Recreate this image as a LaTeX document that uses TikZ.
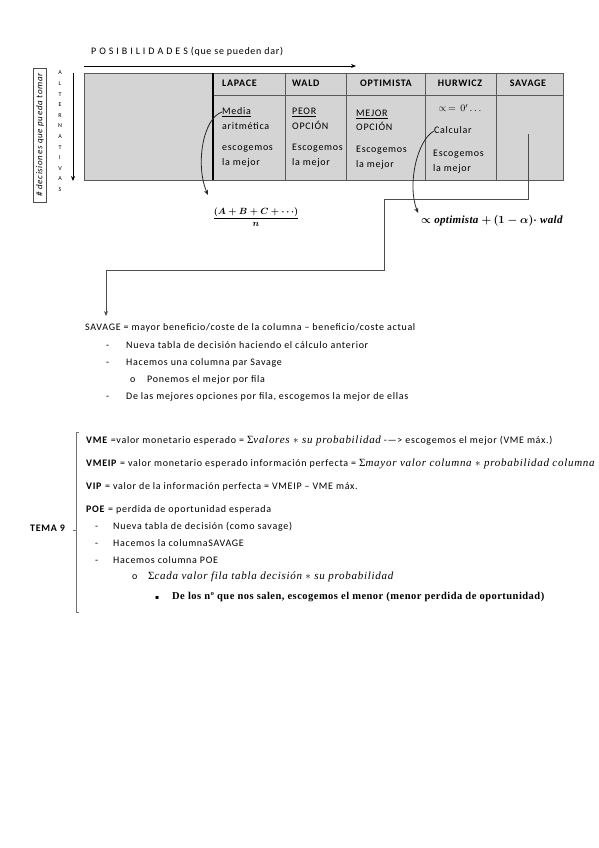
\documentclass[tikz,border=0pt]{standalone}
\usepackage{fontspec}
\setmainfont{Carlito}[LetterSpace=7]
\newfontfamily\serifit{Liberation Serif}[LetterSpace=6.5]
\newfontfamily\serifbf{Liberation Serif}[LetterSpace=4.5]
\newfontfamily\serifplain{Liberation Serif}[LetterSpace=3]
\newfontfamily\dejavu{DejaVu Sans}
\usetikzlibrary{arrows.meta}
\begin{document}
\begin{tikzpicture}[x=1pt,y=-1pt,
  txt/.style={inner sep=0pt, anchor=west, font=\fontsize{10}{11}\selectfont, text height=1.5ex, text depth=.3ex},
  hdr/.style={txt, font=\fontsize{10}{11}\selectfont\bfseries},
  hdrc/.style={hdr, anchor=center},
  small/.style={inner sep=0pt, font=\fontsize{6}{7}\selectfont},
  gridline/.style={draw=black!65, line width=0.8pt},
  conn/.style={draw=black!70, line width=0.8pt},
  arr/.style={-{Stealth[length=5pt,width=4pt]}, line width=0.8pt},
  mit/.style={inner sep=0pt, anchor=west, font=\fontsize{11}{12}\selectfont\serifit\itshape, text height=1.5ex, text depth=.3ex},
]
\useasboundingbox (0,0) rectangle (599,848);

% title and arrow
\node[txt] (tit) at (91,52) {P O S I B I L I D A D E S (que se pueden dar)};
\coordinate (ta) at (84,66);
\coordinate (tb) at (356,66);
\draw[arr] (ta) -- (tb);

% left box with rotated text
\node[draw=black!70, line width=0.8pt, rotate=90, minimum width=134pt, minimum height=13pt, inner sep=0pt,
      font=\fontsize{9}{10}\selectfont\itshape] (dec) at (40,135) {\# decisiones que pueda tomar};
\foreach \l [count=\i] in {A,L,T,E,R,N,A,T,I,V,A,S}
  \node[small] (alt\i) at (60,{73+(\i-1)*10.6}) {\l};
\coordinate (la) at (73,73);
\coordinate (lb) at (73,181);
\draw[arr] (la) -- (lb);

% table
\fill[black!17] (84,73) rectangle (563,180);
\draw[gridline] (84,73) rectangle (563,180);
\draw[gridline] (213,95) -- (563,95);
\foreach \x in {285,346,425,496} \draw[gridline] (\x,73) -- (\x,180);
\draw[black, line width=1.3pt] (213,73) -- (213,180);

\node[hdr] (h1) at (222,84) {LAPACE};
\node[hdr] (h2) at (292,84) {WALD};
\node[hdrc] (h3) at (386,84) {OPTIMISTA};
\node[hdrc] (h4) at (460,84) {HURWICZ};
\node[hdrc] (h5) at (528,84) {SAVAGE};

\node[txt] (la1) at (222,112) {\underline{Media}};
\node[txt] (la2) at (222,127) {aritmética};
\node[txt] (la3) at (222,148) {escogemos};
\node[txt] (la4) at (222,163) {la mejor};

\node[txt] (wa1) at (292,112) {\underline{PEOR}};
\node[txt] (wa2) at (292,127) {OPCIÓN};
\node[txt] (wa3) at (292,148) {Escogemos};
\node[txt] (wa4) at (292,163) {la mejor};

\node[txt] (op1) at (356,114) {\underline{MEJOR}};
\node[txt] (op2) at (356,128) {OPCIÓN};
\node[txt] (op3) at (356,150) {Escogemos};
\node[txt] (op4) at (356,165) {la mejor};

\node[txt, anchor=center] (hu1) at (460,109) {$\propto\,=\,0'\ldots$};
\node[txt] (hu2) at (434,131) {Calcular};
\node[txt] (hu3) at (433,154) {Escogemos};
\node[txt] (hu4) at (433,169) {la mejor};

% curved arrows and formulas
\coordinate (fa) at (208,195);
\draw[arr, black!85] (la1.west) .. controls (203,118) and (195,165) .. (fa);
\node[inner sep=0pt, font=\fontsize{9.5}{10}\selectfont\boldmath] (f1) at (256,217) {$\displaystyle\frac{(A+B+C+\cdots)}{n}$};

\coordinate (fb) at (418,213);
\draw[arr, black!85] (hu2.west) .. controls (417,140) and (407,185) .. (fb);
\node[inner sep=0pt, anchor=west, font=\fontsize{11}{12}\selectfont\boldmath] (f2) at (421,221)
  {$\propto$ {\serifplain\bfseries\itshape optimista} $+\,(1-\alpha)\cdot$ {\serifplain\bfseries\itshape wald}};

% connector from SAVAGE
\coordinate (sv) at (528,134);
\coordinate (se) at (106,316);
\draw[conn, arr] (sv) -- (528,199) -- (384,199) -- (384,270) -- (106,270) -- (se);

% SAVAGE text
\node[txt] (s0) at (85,328) {SAVAGE = mayor beneficio/coste de la columna – beneficio/coste actual};
\node[txt] (d1) at (106,346) {-};
\node[txt] (s1) at (126,346) {Nueva tabla de decisión haciendo el cálculo anterior};
\node[txt] (d2) at (106,363) {-};
\node[txt] (s2) at (126,363) {Hacemos una columna par Savage};
\node[txt] (o1) at (130,380) {o};
\node[txt] (s3) at (147,380) {Ponemos el mejor por fila};
\node[txt] (d3) at (106,397) {-};
\node[txt] (s4) at (126,397) {De las mejores opciones por fila, escogemos la mejor de ellas};

% TEMA 9 block
\draw[black!55, line width=0.8pt] (79,432) -- (76,432) -- (76,612) -- (79,612);
\draw[black!55, line width=0.8pt] (76,530) -- (73,530);
\node[hdr] (tema) at (30,529) {TEMA 9};

\node[txt] (v1) at (86,441) {\textbf{VME} =valor monetario esperado = {\fontsize{11}{12}\selectfont\serifit\itshape{\upshape Σ}valores $\ast$ su probabilidad} -{}—{}> escogemos el mejor (VME máx.)};
\node[txt] (v2) at (86,464) {\textbf{VMEIP} = valor monetario esperado información perfecta = {\fontsize{11}{12}\selectfont\serifit\itshape{\upshape Σ}mayor valor columna $\ast$ probabilidad columna}};
\node[txt] (v3) at (86,487) {\textbf{VIP} = valor de la información perfecta = VMEIP – VME máx.};
\node[txt] (v4) at (86,510) {\textbf{POE} = perdida de oportunidad esperada};
\node[txt] (e1) at (95,527) {-};
\node[txt] (p1) at (113,527) {Nueva tabla de decisión (como savage)};
\node[txt] (e2) at (95,544) {-};
\node[txt] (p2) at (113,544) {Hacemos la columnaSAVAGE};
\node[txt] (e3) at (95,561) {-};
\node[txt] (p3) at (113,561) {Hacemos columna POE};
\node[txt] (o2) at (132,577) {o};
\node[mit] (p4) at (148,577) {{\upshape Σ}cada valor fila tabla decisión $\ast$ su probabilidad};
\node[txt, font=\fontsize{6}{7}\selectfont\dejavu] (sq) at (155,597) {▪};
\node[txt, font=\fontsize{10.5}{11}\selectfont\serifbf\bfseries] (p5) at (172,597) {De los nº que nos salen, escogemos el menor (menor perdida de oportunidad)};
\end{tikzpicture}
\end{document}
